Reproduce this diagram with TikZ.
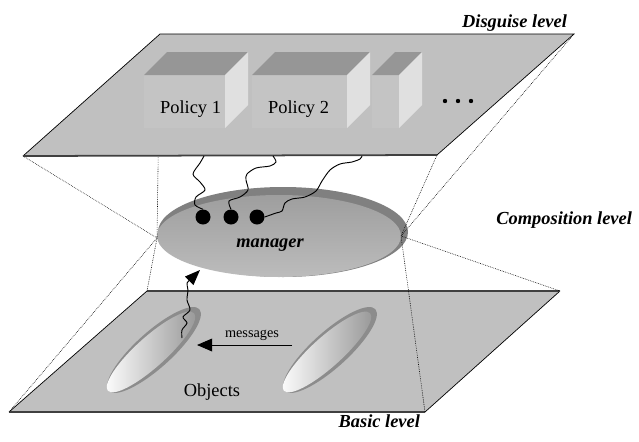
\documentclass[tikz,border=0pt]{standalone}
\usepackage{fontspec}
\setmainfont{Liberation Serif}
\usetikzlibrary{arrows.meta, positioning}
\definecolor{planegray}{RGB}{192,192,192}
\definecolor{boxfront}{RGB}{196,196,196}
\definecolor{boxtop}{RGB}{150,150,150}
\definecolor{boxside}{RGB}{224,224,224}
\definecolor{diskrim}{RGB}{128,128,128}
\definecolor{disktop}{RGB}{158,158,158}
\definecolor{diskbottom}{RGB}{188,188,188}
\definecolor{objrim}{RGB}{140,140,140}
\definecolor{objface}{RGB}{150,150,150}

\begin{document}
\begin{tikzpicture}[x=0.03cm, y=-0.03cm,
 planeline/.style={line width=0.6pt,draw=black},
 planeedge/.style={line width=1.5pt,draw=black!75},
 guide/.style={line width=0.5pt,dash pattern=on 0.6pt off 0.9pt},
 wire/.style={line width=0.8pt},
 dot/.style={circle,fill=black,inner sep=0pt,minimum size=0.45cm},
 lbl/.style={font=\fontsize{15.7}{18}\selectfont},
 small/.style={font=\fontsize{12.2}{14}\selectfont},
 lvl/.style={font=\fontsize{15.7}{18}\selectfont\bfseries\itshape}]
 \useasboundingbox (0,0) rectangle (639,441);
 % corners of the two levels and ends of the manager disk
 \coordinate (dtl) at (160,34);
 \coordinate (dtr) at (574,34);
 \coordinate (dbr) at (437,155);
 \coordinate (dbl) at (23,156);
 \coordinate (btl) at (147,291);
 \coordinate (btr) at (560,291);
 \coordinate (bbr) at (425,412);
 \coordinate (bbl) at (9,412);
 \coordinate (mgrL) at (157,238);
 \coordinate (mgrR) at (401,236);

 % basic level
 \fill[planegray] (btl) -- (btr) -- (bbr) -- (bbl) -- cycle;
 \draw[planeline] (btr) -- (bbr) (bbl) -- (btl);
 \draw[planeedge] (btl) -- (btr) (bbl) -- (bbr);
 \foreach \cx in {152,328} {
   \fill[objrim,shift={(\cx+2,350)},rotate=42] (0,0) ellipse (61 and 18);
   \shade[left color=white,right color=objface,shift={(\cx-1,352)},rotate=42]
     (0,0) ellipse (58 and 15);
 }
 \node[lbl,anchor=base] (objects) at (212,396) {Objects};
 \coordinate (msgfrom) at (292,345);
 \coordinate (msgto) at (197,345);
 \draw[line width=0.8pt,-{Triangle[length=13pt,width=11pt]}] (msgfrom) -- (msgto);
 \node[small,anchor=base] (messages) at (252,337) {messages};

 % composition level
 \fill[diskrim] (283,232) ellipse (125 and 45);
 \shade[top color=disktop,bottom color=diskbottom] (279,236) ellipse (122 and 41);
 \node[lvl,anchor=base] (manager) at (270,247) {manager};
 \coordinate (upfrom) at (182,338);
 \coordinate (upto) at (200,270);
 \draw[wire,-{Triangle[length=13pt,width=10pt]}] plot[smooth] coordinates
   {(upfrom) (182,330) (187,323) (183,317) (190,310) (187,300) (188,290)
    (187,283) (192,278) (upto)};

 % projection lines
 \draw[guide] (dtl) -- (mgrL) -- (btl);
 \draw[guide] (dbl) -- (mgrL) -- (bbl);
 \draw[guide] (dtr) -- (mgrR) -- (btr);
 \draw[guide] (dbr) -- (mgrR) -- (bbr);

 % disguise level
 \fill[planegray] (dtl) -- (dtr) -- (dbr) -- (dbl) -- cycle;
 \draw[planeline] (dbl) -- (dtl) -- (dtr) -- (dbr);
 \draw[planeedge] (dbl) -- (dbr);
 \foreach \xa/\xb in {144/225, 252/347, 372/399} {
   \fill[boxfront] (\xa,75) rectangle (\xb,128);
   \fill[boxtop] (\xa,75) -- (\xa+23,52) -- (\xb+23,52) -- (\xb,75) -- cycle;
   \fill[boxside] (\xb,75) -- (\xb+23,52) -- (\xb+23,105) -- (\xb,128) -- cycle;
 }
 \node[lbl,anchor=base west] (policy1) at (156,113) {Policy 1};
 \node[lbl,anchor=base west] (policy2) at (264,113) {Policy 2};
 \foreach \x in {445,458,471} \fill (\x,101) circle (2.2);

 % policy links to the manager
 \foreach \x [count=\i] in {203,231,257} \node[dot] (d\i) at (\x,217) {};
 \coordinate (w1) at (204,156);
 \coordinate (w2) at (273,156);
 \coordinate (w3) at (362,156);
 \draw[wire] plot[smooth] coordinates
   {(d1.north) (195,205) (196,197) (205,190) (200,182) (193,174) (200,163) (w1)};
 \draw[wire] plot[smooth] coordinates
   {(d2.north) (229,201) (240,197) (248,190) (246,180) (247,174) (256,168)
    (270,166) (276,162) (w2)};
 \draw[wire] plot[smooth] coordinates
   {(d3.east) (276,213) (282,211) (285,203) (292,199) (305,197) (316,191)
    (322,181) (330,170) (340,164) (352,162) (360,159) (w3)};

 % level names
 \node[lvl,anchor=base east] (disguise) at (571,27) {Disguise level};
 \node[lvl,anchor=base east] (composition) at (636,224) {Composition level};
 \node[lvl,anchor=base east] (basic) at (424,427) {Basic level};
\end{tikzpicture}
\end{document}
